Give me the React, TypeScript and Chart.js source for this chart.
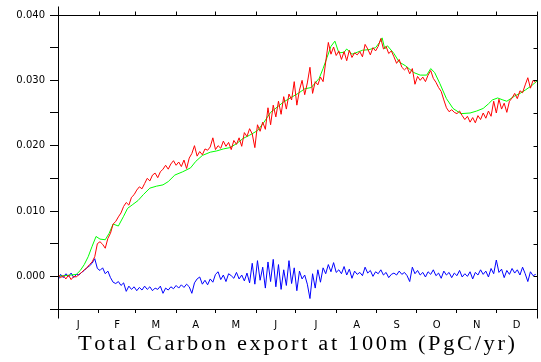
import React, { useEffect, useRef } from "react";
import { Chart, registerables } from "chart.js";

Chart.register(...registerables);

const MONTH_LABELS = ["J", "F", "M", "A", "M", "J", "J", "A", "S", "O", "N", "D"];
const MONTH_STARTS = [0, 31, 59, 90, 120, 151, 181, 212, 243, 273, 304, 334, 365];
const Y_MIN = -0.005;
const Y_MAX = 0.04;
const Y_STEP = 0.005;
const TITLE = "Total Carbon export at 100m (PgC/yr)";

// red & blue: one value every 2 days, starting at day 0
const DAY_STEP = 2;
const RED_VALUES = [
  0.0004, -0.0002, 0.0001, -0.0004, 0.0002, -0.0005, 0.0000, -0.0001, 0.0003, 0.0006,
  0.0010, 0.0013, 0.0018, 0.0022, 0.0030, 0.0050, 0.0053, 0.0049, 0.0043, 0.0058,
  0.0066, 0.0080, 0.0084, 0.0091, 0.0097, 0.0107, 0.0113, 0.0109, 0.0121, 0.0125,
  0.0132, 0.0137, 0.0134, 0.0142, 0.0150, 0.0146, 0.0155, 0.0158, 0.0151, 0.0160,
  0.0164, 0.0170, 0.0164, 0.0172, 0.0177, 0.0170, 0.0175, 0.0168, 0.0178, 0.0165,
  0.0181, 0.0188, 0.0200, 0.0184, 0.0191, 0.0186, 0.0195, 0.0193, 0.0198, 0.0212,
  0.0194, 0.0200, 0.0196, 0.0207, 0.0199, 0.0205, 0.0194, 0.0208, 0.0202, 0.0212,
  0.0199, 0.0220, 0.0214, 0.0226, 0.0218, 0.0197, 0.0232, 0.0222, 0.0236, 0.0225,
  0.0258, 0.0232, 0.0262, 0.0244, 0.0268, 0.0248, 0.0275, 0.0256, 0.0279, 0.0270,
  0.0298, 0.0262, 0.0285, 0.0300, 0.0278, 0.0296, 0.0320, 0.0280, 0.0298, 0.0293,
  0.0305, 0.0298, 0.0328, 0.0358, 0.0340, 0.0351, 0.0338, 0.0345, 0.0332, 0.0344,
  0.0330, 0.0346, 0.0335, 0.0342, 0.0339, 0.0344, 0.0336, 0.0355, 0.0348, 0.0339,
  0.0350, 0.0345, 0.0352, 0.0364, 0.0348, 0.0352, 0.0341, 0.0345, 0.0336, 0.0326,
  0.0332, 0.0320, 0.0316, 0.0320, 0.0310, 0.0318, 0.0294, 0.0306, 0.0300, 0.0305,
  0.0298, 0.0308, 0.0315, 0.0303, 0.0297, 0.0289, 0.0283, 0.0270, 0.0258, 0.0252,
  0.0255, 0.0251, 0.0249, 0.0253, 0.0246, 0.0240, 0.0245, 0.0236, 0.0243, 0.0235,
  0.0246, 0.0240, 0.0250, 0.0242, 0.0253, 0.0245, 0.0268, 0.0250, 0.0271, 0.0256,
  0.0265, 0.0251, 0.0268, 0.0273, 0.0280, 0.0272, 0.0284, 0.0281, 0.0293, 0.0304,
  0.0288, 0.0300, 0.0297,
];
const BLUE_VALUES = [
  -0.0006, 0.0003, -0.0002, 0.0004, 0.0000, 0.0005, -0.0002, 0.0003, 0.0002, 0.0006,
  0.0009, 0.0013, 0.0016, 0.0020, 0.0027, 0.0012, 0.0009, 0.0013, 0.0004, 0.0008,
  -0.0002, -0.0009, -0.0011, -0.0008, -0.0014, -0.0010, -0.0023, -0.0015, -0.0020, -0.0016,
  -0.0022, -0.0017, -0.0021, -0.0015, -0.0020, -0.0016, -0.0022, -0.0018, -0.0020, -0.0015,
  -0.0026, -0.0018, -0.0021, -0.0016, -0.0019, -0.0014, -0.0018, -0.0013, -0.0017, -0.0012,
  -0.0016, -0.0026, -0.0010, -0.0004, -0.0001, -0.0012, -0.0006, -0.0013, -0.0004, -0.0009,
  0.0003, 0.0007, -0.0005, 0.0002, -0.0008, 0.0004, 0.0001, -0.0003, 0.0006, -0.0004,
  0.0002, -0.0007, 0.0005, -0.0010, 0.0020, -0.0012, 0.0024, -0.0006, 0.0014, -0.0018,
  0.0022, -0.0008, 0.0026, -0.0016, 0.0018, -0.0020, 0.0010, -0.0014, 0.0024, -0.0011,
  0.0013, -0.0022, 0.0008, -0.0004, 0.0002, -0.0012, -0.0034, 0.0004, -0.0018, 0.0010,
  -0.0009, 0.0013, 0.0004, 0.0018, 0.0007, 0.0021, 0.0006, 0.0010, 0.0004, 0.0015,
  0.0002, 0.0011, -0.0003, 0.0008, 0.0003, 0.0006, 0.0001, 0.0014, 0.0005, 0.0009,
  0.0000, 0.0007, 0.0004, 0.0010, 0.0002, 0.0006, -0.0002, 0.0003, 0.0005, 0.0002,
  0.0008, 0.0003, 0.0006, 0.0001, -0.0008, 0.0014, 0.0004, 0.0009, 0.0002, 0.0006,
  -0.0001, 0.0007, 0.0003, 0.0010, 0.0001, 0.0005, -0.0003, 0.0008, 0.0002, 0.0006,
  -0.0002, 0.0005, 0.0001, 0.0009, -0.0001, 0.0004, 0.0000, 0.0007, -0.0004, 0.0006,
  0.0002, 0.0010, 0.0003, 0.0008, -0.0001, 0.0012, 0.0004, 0.0025, 0.0006, 0.0011,
  -0.0002, 0.0009, 0.0003, 0.0012, 0.0005, 0.0010, 0.0002, 0.0014, 0.0004, -0.0008,
  0.0007, 0.0001, 0.0003,
];

// green: smooth curve, sampled at irregular days
const GREEN_DAYS = [
  0, 5, 10, 14, 17, 20, 23, 26, 29, 32, 36, 39, 42, 46, 50, 53, 57, 61, 65, 70,
  75, 80, 84, 89, 95, 101, 105, 110, 116, 121, 126, 131, 136, 141, 146, 152, 157, 162, 167, 172,
  177, 183, 188, 193, 199, 202, 205, 208, 211, 214, 218, 220, 224, 228, 232, 237, 242, 245, 247, 249,
  251, 256, 260, 265, 271, 276, 281, 284, 287, 291, 296, 301, 307, 314, 319, 324, 328, 331, 335, 339,
  342, 348, 352, 356, 361, 365,
];
const GREEN_VALUES = [
  0.0000, 0.0001, 0.0002, 0.0003, 0.0009, 0.0018, 0.0030, 0.0046, 0.0061, 0.0057,
  0.0056, 0.0066, 0.0080, 0.0077, 0.0092, 0.0104, 0.0110, 0.0116, 0.0125, 0.0135,
  0.0138, 0.0140, 0.0145, 0.0155, 0.0160, 0.0166, 0.0176, 0.0185, 0.0190, 0.0192,
  0.0195, 0.0197, 0.0203, 0.0211, 0.0216, 0.0223, 0.0236, 0.0251, 0.0259, 0.0267,
  0.0273, 0.0280, 0.0287, 0.0289, 0.0303, 0.0318, 0.0335, 0.0352, 0.0360, 0.0342,
  0.0343, 0.0348, 0.0340, 0.0343, 0.0346, 0.0347, 0.0350, 0.0358, 0.0365, 0.0348,
  0.0353, 0.0341, 0.0328, 0.0322, 0.0312, 0.0308, 0.0308, 0.0318, 0.0312, 0.0295,
  0.0272, 0.0257, 0.0249, 0.0250, 0.0253, 0.0257, 0.0264, 0.0270, 0.0273, 0.0270,
  0.0268, 0.0276, 0.0280, 0.0285, 0.0292, 0.0299,
];

const MONTH_MIDS = MONTH_STARTS.slice(0, -1).map((s, i) => (s + MONTH_STARTS[i + 1]) / 2);

const framePlugin = {
  id: "frame",
  afterDraw(chart: any) {
    const { ctx, chartArea } = chart;
    const L = Math.round(chartArea.left) + 0.5;
    const R = Math.round(chartArea.right) + 0.5;
    const T = Math.round(chartArea.top) + 0.5;
    const B = Math.round(chartArea.bottom) + 0.5;
    const xs = chart.scales.x;
    const ys = chart.scales.y;
    ctx.save();
    ctx.strokeStyle = "#000";
    ctx.lineWidth = 1;
    ctx.beginPath();
    ctx.moveTo(L, T);
    ctx.lineTo(R, T);
    ctx.moveTo(L, T - 9);
    ctx.lineTo(L, B + 9);
    ctx.moveTo(R, T);
    ctx.lineTo(R, B + 9);
    MONTH_STARTS.forEach((d) => {
      const px = Math.round(xs.getPixelForValue(d)) + 0.5;
      ctx.moveTo(px, T);
      ctx.lineTo(px, T - 4);
    });
    for (let v = Y_MIN; v <= Y_MAX + 1e-9; v += Y_STEP) {
      const py = Math.round(ys.getPixelForValue(v)) + 0.5;
      ctx.moveTo(R, py);
      ctx.lineTo(R - 4, py);
    }
    ctx.stroke();

    // title: wide serif lettering
    ctx.fillStyle = "#000";
    ctx.font = '20px "Liberation Serif"';
    ctx.textBaseline = "alphabetic";
    ctx.textAlign = "left";
    const sx = 1.12;
    const chars = TITLE.split("");
    const widths = chars.map((c) => ctx.measureText(c).width * sx);
    const natural = widths.reduce((a, b) => a + b, 0);
    const target = 437;
    const gap = Math.max(0, (target - natural) / (chars.length - 1));
    let x = 296.5 - target / 2;
    chars.forEach((c, i) => {
      ctx.save();
      ctx.translate(x, 350);
      ctx.scale(sx, 1);
      ctx.fillText(c, 0, 0);
      ctx.restore();
      x += widths[i] + gap;
    });
    ctx.restore();
  },
};

export default function App() {
  const ref = useRef<HTMLCanvasElement | null>(null);

  useEffect(() => {
    if (!ref.current) return;
    const chart = new Chart(ref.current, {
      type: "line",
      data: {
        datasets: [
          {
            label: "red",
            data: RED_VALUES.map((v, i) => ({ x: i * DAY_STEP, y: v })),
            borderColor: "#ff0000",
            borderWidth: 1,
            pointRadius: 0,
            tension: 0,
            fill: false,
          },
          {
            label: "green",
            data: GREEN_VALUES.map((v, i) => ({ x: GREEN_DAYS[i], y: v })),
            borderColor: "#00ff00",
            borderWidth: 1,
            pointRadius: 0,
            tension: 0,
            fill: false,
          },
          {
            label: "blue",
            data: BLUE_VALUES.map((v, i) => ({ x: i * DAY_STEP, y: v })),
            borderColor: "#0000ff",
            borderWidth: 1,
            pointRadius: 0,
            tension: 0,
            fill: false,
          },
        ],
      },
      options: {
        animation: false,
        responsive: false,
        events: [],
        layout: { padding: { top: 15, right: 4, left: 0, bottom: 0 } },
        plugins: {
          legend: { display: false },
          tooltip: { enabled: false },
          title: { display: false },
        },
        scales: {
          x: {
            type: "linear",
            min: 0,
            max: 365,
            position: "bottom",
            afterBuildTicks: (s: any) => {
              s.ticks = MONTH_STARTS.map((v) => ({ value: v }));
            },
            ticks: { display: false },
            grid: { drawOnChartArea: false, drawTicks: true, tickLength: 4, color: "#000", lineWidth: 1 },
            border: { display: true, color: "#000", width: 1 },
            afterFit: (s: any) => {
              s.height = 4;
            },
          },
          xm: {
            type: "linear",
            min: 0,
            max: 365,
            position: "bottom",
            afterBuildTicks: (s: any) => {
              s.ticks = MONTH_MIDS.map((v) => ({ value: v }));
            },
            ticks: {
              autoSkip: false,
              maxRotation: 0,
              padding: 6,
              color: "#000",
              font: { family: "DejaVu Sans", size: 10 },
              callback: (_v: any, i: number) => MONTH_LABELS[i],
            },
            grid: { display: false, drawTicks: false, tickLength: 0 },
            border: { display: false },
            afterFit: (s: any) => {
              s.height = 49;
            },
          },
          y: {
            type: "linear",
            min: Y_MIN,
            max: Y_MAX,
            position: "left",
            ticks: {
              stepSize: Y_STEP,
              autoSkip: false,
              padding: 5,
              color: "#000",
              font: { family: "DejaVu Sans", size: 10 },
              callback: (v: any) => {
                const n = Math.round(Number(v) / Y_STEP);
                return Math.abs(n) % 2 === 0 ? Number(v).toFixed(3) : "";
              },
            },
            grid: { drawOnChartArea: false, drawTicks: true, tickLength: 8, color: "#000", lineWidth: 1 },
            border: { display: true, color: "#000", width: 1 },
            afterFit: (s: any) => {
              s.width = 58;
            },
          },
        },
      },
      plugins: [framePlugin],
    } as any);
    return () => chart.destroy();
  }, []);

  return (
    <div style={{ position: "fixed", left: 0, top: 0, width: 541, height: 362, background: "#fff" }}>
      <canvas ref={ref} width={541} height={362} style={{ width: 541, height: 362, display: "block" }} />
    </div>
  );
}
